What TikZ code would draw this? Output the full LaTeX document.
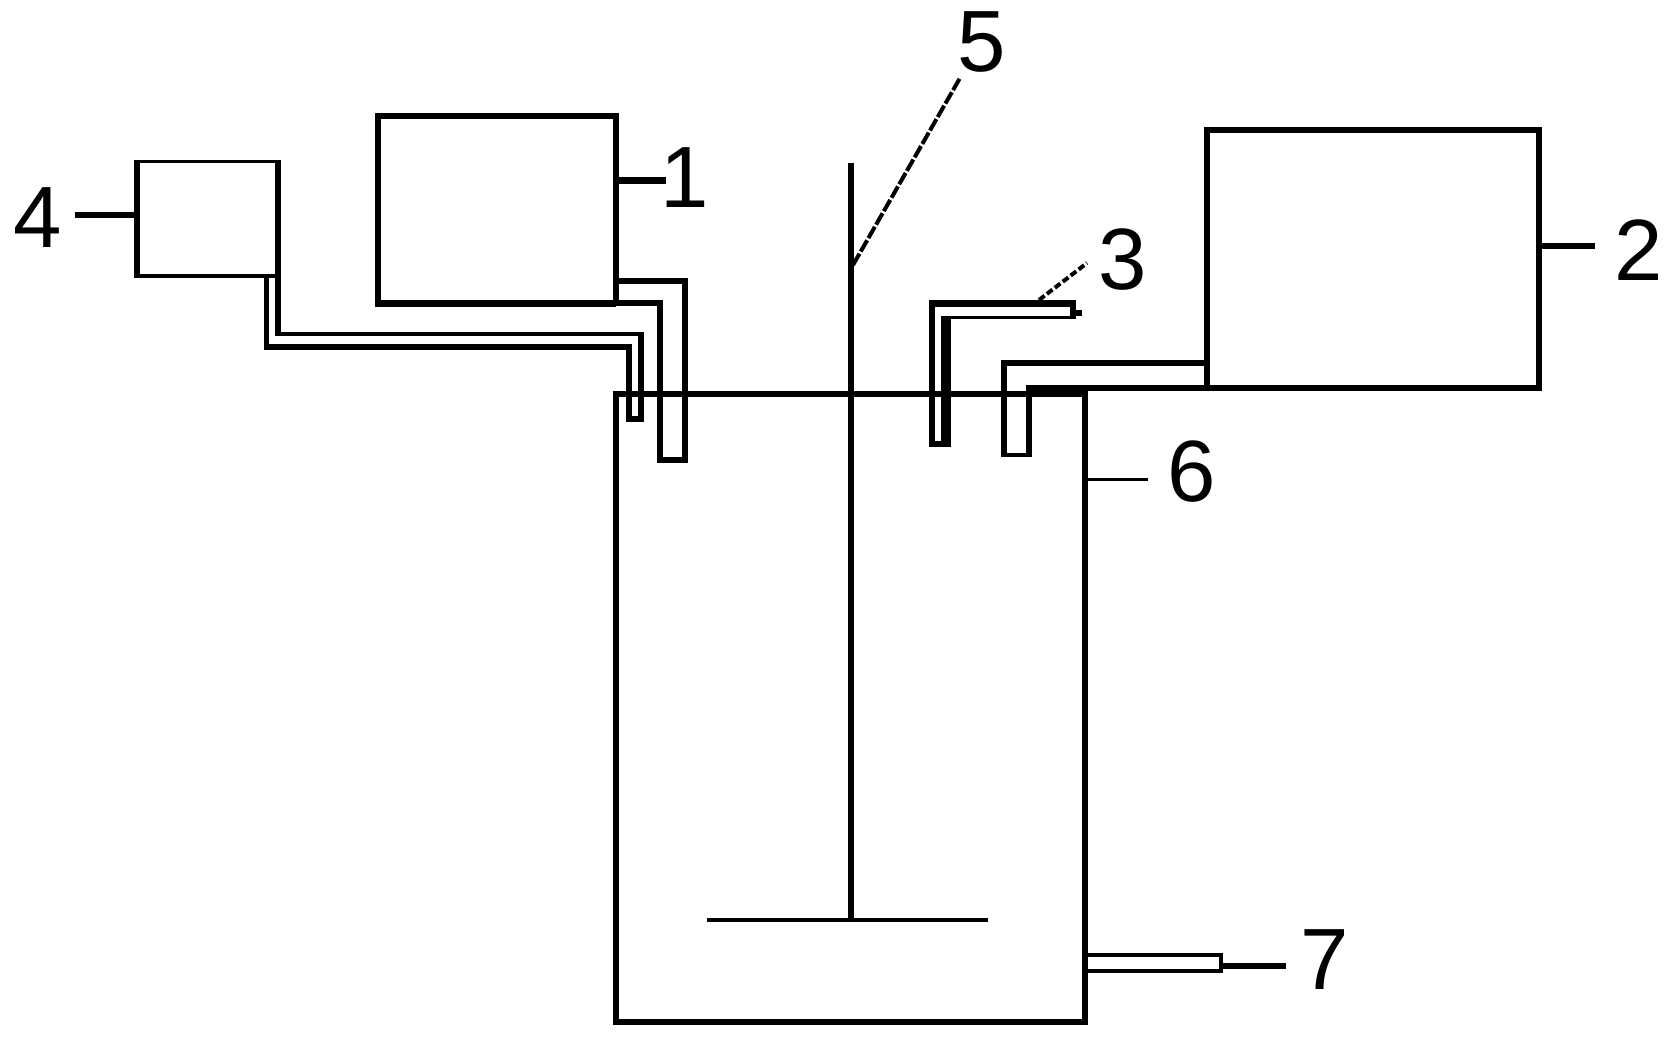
\documentclass[tikz,border=0pt]{standalone}
\usepackage{fontspec}
\setmainfont{Liberation Sans}
\usepackage{tikz}

\tikzset{
    tank/.style={draw=black, line width=6pt, outer sep=0pt, inner sep=0pt},
    num/.style={inner sep=0pt, outer sep=0pt, font=\fontsize{87}{87}\selectfont},
    wall/.style={line width=6pt, line join=miter},
    thin wall/.style={line width=3.5pt, line join=miter},
    lead/.style={line width=6pt}
}

\begin{document}
\begin{tikzpicture}[x=1pt, y=-1pt]
            \useasboundingbox (0,0) rectangle (1680,1048);

            \node[tank, minimum width=238pt, minimum height=187.5pt] (tankA) at (497,209.75) {};
            \node[tank, minimum width=332pt, minimum height=258pt] (tankB) at (1373,259) {};
            \node[tank, line width=3.5pt, minimum width=141pt, minimum height=114.5pt] (tankD) at (207.5,218.75) {};
            \node[tank, minimum width=469pt, minimum height=628pt] (vessel) at (850.5,708) {};

            \node[num] (num1) at (685,178) {1};
            \node[num] (num2) at (1639,250) {2};
            \node[num] (num3) at (1123,260) {3};
            \node[num] (num4) at (38,218) {4};
            \node[num] (num5) at (982,42) {5};
            \node[num] (num6) at (1192,472) {6};
            \node[num] (num7) at (1325,960) {7};

            \draw[wall] ([yshift=1.75pt]tankD.north west) -- ([yshift=-1.75pt]tankD.south west);
            \draw[wall] ([yshift=1.75pt]tankD.north east) -- ([yshift=-1.75pt]tankD.south east);
            \draw[line width=7pt] ([xshift=-3pt]tankA.south west) -- (tankA.south east);

            % pipe from tank A
            \coordinate (pipeA) at (tankA.east |- 0,281);
            \draw[wall] (pipeA) -- (685,281) -- (685,460) -- (660,460) -- (660,303.5) -- (tankA.south east);

            % pipe from tank D
            \draw[line width=5pt] (266,276) -- (266,347);
            \draw[wall] (263.5,347) -- (628.5,347) -- (628.5,419) -- (641,419) -- (641,332);
            \draw[line width=4pt] (644,334) -- (278,334);
            \draw[wall] (tankD.south east) -- (278,336);

            % pipe from tank B
            \coordinate (pipeB) at (tankB.west |- 0,363);
            \draw[wall] (pipeB) -- (1004,363) -- (1004,457);
            \draw[thin wall] (1001,455) -- (1032,455);
            \draw[wall] (1029,457) -- (1029,388) -- (tankB.south west);

            % bent tube 3
            \draw[wall] (932,447) -- (932,300);
            \draw[line width=7pt] (929,303.5) -- (1076,303.5);
            \draw[line width=6pt] (1073,300) -- (1073,319);
            \draw[line width=6pt] (1070,313) -- (1082,313);
            \draw[line width=3pt] (1076,317.5) -- (946,317.5);
            \draw[line width=10pt] (946,316) -- (946,447);
            \draw[line width=6pt] (929,444) -- (951,444);

            % shaft and blade
            \coordinate (shaftTop) at (851,163);
            \coordinate (blade) at (851,920);
            \draw[line width=5.5pt] (shaftTop) -- (blade);
            \draw[line width=3.5pt] (707,920) -- (988,920);

            % outlet 7
            \draw[line width=3.5pt] (vessel.east |- 0,955) -- (1221,955) -- (1221,971) -- (vessel.east |- 0,971);
            \coordinate (lead7) at (1286,965.5);
            \draw[lead] (1221,965.5) -- (lead7);

            \coordinate (lead1) at (666,181);
            \coordinate (lead2) at (1595,246);
            \coordinate (lead3) at (1087,263);
            \coordinate (lead4) at (75,215);
            \coordinate (lead5) at (960,78);
            \coordinate (lead6) at (1148,479);
            \draw[lead, line width=7pt] (lead1) -- (lead1 -| tankA.east);
            \draw[lead] (lead2) -- (lead2 -| tankB.east);
            \draw[line width=4pt, dash pattern=on 7pt off 3pt] (1039,300) -- (lead3);
            \draw[lead] (lead4) -- (lead4 -| tankD.west);
            \draw[line width=4pt, dash pattern=on 13pt off 2.5pt] (853,265) -- (lead5);
            \draw[line width=3pt] (lead6) -- (lead6 -| vessel.east);
        \end{tikzpicture}
\end{document}
